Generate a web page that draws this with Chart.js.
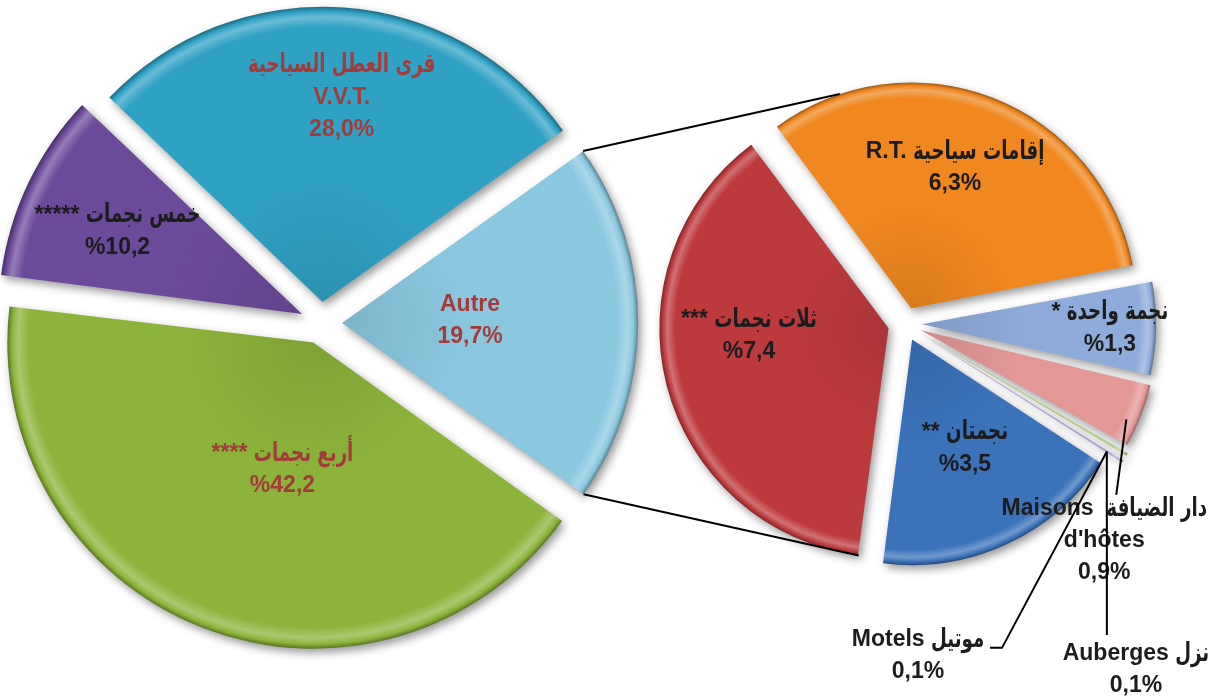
<!DOCTYPE html>
<html>
<head>
<meta charset="utf-8">
<script src="https://cdn.jsdelivr.net/npm/chart.js@4.4.1/dist/chart.umd.min.js"></script>
<style>
  html, body { margin: 0; padding: 0; background: #fff; }
  .wrap { position: relative; width: 1219px; height: 699px; overflow: hidden; }
  .wrap canvas { position: absolute; left: 0; top: 0; }
</style>
</head>
<body>
<div class="wrap">
  <canvas id="mainPie" width="1219" height="699"></canvas>
  <canvas id="subPie" width="1219" height="699"></canvas>
</div>
<script>
// Data -------------------------
const mainNames = ['Autre', '**** أربع نجمات', '***** خمس نجمات', 'قرى العطل السياحية\nV.V.T.'];
const mainValues = [19.7, 42.2, 10.2, 28.0];

const subNames = [
  'R.T. إقامات سياحية',
  '* نجمة واحدة',
  "Maisons  دار الضيافة\nd'hôtes",
  'Auberges نزل',
  'Motels موتيل',
  '** نجمتان',
  '*** ثلات نجمات',
];
const subValues = [6.3, 1.3, 0.9, 0.1, 0.1, 3.5, 7.4];

// Layout / style -----------------
const W = 1219;
const H = 699;
const MAIN = { cx: 321, cy: 323, r: 295, push: 21, rotation: 54.5 };
const SUB = { cx: 905, cy: 324, r: 224, push: 17, rotation: 323.4 };

const mainColors = ['#8bc8e0', '#8cb43a', '#6c4a9a', '#2fa2c4'];
const subColors = ['#f0871f', '#8eacd9', '#e39896', '#b4cf86', '#b2a3d0', '#3b72ba', '#bd3a3c'];

// label anchor: [angle shift from slice middle (deg), radius fraction]
const mainLabelAt = [[-0.9, 0.434], [-7.6, 0.445], [-1.4, 0.685], [1.2, 0.697]];
const mainPctLeft = [false, true, true, false];
const mainTextColors = ['#a33b3b', '#a33b3b', '#1c1c1c', '#a33b3b'];

const subLabelAt = [[-3.9, 0.656], [0.2, 0.839], [27.7, 1.247], [26.9, 1.789], [57.97, 1.441], [-1.2, 0.541], [11.4, 0.624]];
const subPctLeft = [false, true, false, false, false, true, true];
const subLeaders = [
  null,
  null,
  { from: [2.2, 1.0], to: [[12, -46]] },
  { from: [2, 0.99], to: [[-29, -35]] },
  { from: [0, 0.99], to: [[84, -8], [72, -8]] },
  null,
  null,
];

const FONT = 'bold 23px "Liberation Sans", "DejaVu Sans", sans-serif';
const ARABIC_FONT = 'bold 26px "DejaVu Sans", sans-serif';
const LINE_H = 32;
const ARABIC_SQUEEZE = 0.7; // DejaVu arabic runs wider than the original face
const ARABIC_RUN = /([\u0600-\u06FF]+(?:\s+[\u0600-\u06FF]+)*)/;

// Helpers ----------------------
const pct = (v, left) => {
  const s = v.toFixed(1).replace('.', ',');
  return left ? '%' + s : s + '%';
};

const shade = (hex, k) => {
  const n = parseInt(hex.slice(1), 16);
  const ch = [(n >> 16) & 255, (n >> 8) & 255, n & 255].map(c =>
    Math.round(k >= 0 ? c + (255 - c) * k : c * (1 + k))
  );
  return `rgb(${ch.join(',')})`;
};

// translation used by ArcElement for its offset
const pushOf = el => (el.options.offset || 0) / 4;
const edgeOf = el => el.outerRadius + pushOf(el) * (1 - Math.sin(Math.min(Math.PI, el.circumference)));

const apex = el => {
  const mid = (el.startAngle + el.endAngle) / 2;
  const t = pushOf(el);
  return { x: el.x + Math.cos(mid) * t, y: el.y + Math.sin(mid) * t };
};

const polar = (el, da, f) => {
  const o = apex(el);
  const a = (el.startAngle + el.endAngle) / 2 + (da * Math.PI) / 180;
  const r = f * el.outerRadius;
  return { x: o.x + Math.cos(a) * r, y: o.y + Math.sin(a) * r };
};

const edgePoint = (el, frac) => {
  const o = apex(el);
  const a = el.startAngle + (el.endAngle - el.startAngle) * frac;
  const r = edgeOf(el);
  return { x: o.x + Math.cos(a) * r, y: o.y + Math.sin(a) * r };
};

// one text line, arabic runs drawn larger and squeezed, centred on x
const drawLine = (c, text, x, y) => {
  const parts = text.split(ARABIC_RUN).filter(s => s.length);
  const isAr = parts.map(s => ARABIC_RUN.test(s));
  const widths = parts.map((s, i) => {
    c.font = isAr[i] ? ARABIC_FONT : FONT;
    return c.measureText(s).width * (isAr[i] ? ARABIC_SQUEEZE : 1);
  });
  let left = x - widths.reduce((a, b) => a + b, 0) / 2;
  parts.forEach((s, i) => {
    c.save();
    c.font = isAr[i] ? ARABIC_FONT : FONT;
    c.translate(left, y);
    if (isAr[i]) c.scale(ARABIC_SQUEEZE, 1);
    c.fillText(s, 0, 0);
    c.restore();
    left += widths[i];
  });
};

const sliceFill = (colors, geo) => ctx => {
  const chart = ctx.chart;
  const area = chart.chartArea;
  const base = colors[ctx.dataIndex];
  if (!area) return base;
  const data = ctx.dataset.data;
  const total = data.reduce((a, b) => a + b, 0);
  const circ = (data[ctx.dataIndex] / total) * Math.PI * 2;
  const rr = geo.r + geo.push * (1 - Math.sin(Math.min(Math.PI, circ)));
  const cx = (area.left + area.right) / 2;
  const cy = (area.top + area.bottom) / 2;
  const g = chart.ctx.createRadialGradient(cx, cy, 0, cx, cy, rr);
  g.addColorStop(0, shade(base, -0.1));
  g.addColorStop(0.45, base);
  g.addColorStop(0.93, base);
  g.addColorStop(0.965, shade(base, 0.28));
  g.addColorStop(0.985, base);
  g.addColorStop(1, shade(base, -0.35));
  return g;
};

const shadowPlugin = {
  id: 'sliceShadow',
  beforeDatasetsDraw(chart) {
    const c = chart.ctx;
    c.save();
    c.shadowColor = 'rgba(0,0,0,0.4)';
    c.shadowBlur = 9;
    c.shadowOffsetX = 3;
    c.shadowOffsetY = 4;
  },
  afterDatasetsDraw(chart) {
    chart.ctx.restore();
  },
};

const labelPlugin = (names, values, at, pctLeft, colors, leaders) => ({
  id: 'sliceLabels',
  afterDatasetsDraw(chart) {
    const c = chart.ctx;
    const arcs = chart.getDatasetMeta(0).data;
    c.save();
    c.textAlign = 'left';
    c.textBaseline = 'middle';
    c.direction = 'ltr';
    arcs.forEach((el, i) => {
      const p = polar(el, at[i][0], at[i][1]);
      const lead = leaders && leaders[i];
      if (lead) {
        const s = polar(el, lead.from[0], lead.from[1]);
        c.beginPath();
        c.moveTo(s.x, s.y);
        lead.to.forEach(([dx, dy]) => c.lineTo(p.x + dx, p.y + dy));
        c.strokeStyle = '#000';
        c.lineWidth = 2;
        c.stroke();
      }
      const lines = names[i].split('\n').concat(pct(values[i], pctLeft[i]));
      c.fillStyle = colors[i];
      lines.forEach((t, k) => drawLine(c, t, p.x, p.y + (k - (lines.length - 1) / 2) * LINE_H));
    });
    c.restore();
  },
});

const pieConfig = (geo, values, colors, plugins) => ({
  type: 'pie',
  data: {
    labels: values.map((_, i) => i),
    datasets: [
      {
        data: values,
        backgroundColor: sliceFill(colors, geo),
        borderWidth: 0,
        offset: geo.push * 4,
        hoverOffset: 0,
        radius: geo.r,
      },
    ],
  },
  options: {
    responsive: false,
    animation: false,
    events: [],
    rotation: geo.rotation,
    radius: geo.r,
    layout: {
      padding: {
        left: Math.max(0, geo.cx * 2 - W),
        right: Math.max(0, W - geo.cx * 2),
        top: Math.max(0, geo.cy * 2 - H),
        bottom: Math.max(0, H - geo.cy * 2),
      },
    },
    plugins: { legend: { display: false }, tooltip: { enabled: false } },
  },
  plugins,
});

// Charts ----------------------
const mainChart = new Chart(
  document.getElementById('mainPie'),
  pieConfig(MAIN, mainValues, mainColors, [
    shadowPlugin,
    labelPlugin(mainNames, mainValues, mainLabelAt, mainPctLeft, mainTextColors, null),
  ])
);

const connectorPlugin = {
  id: 'connectors',
  afterDatasetsDraw(chart) {
    const other = mainChart.getDatasetMeta(0).data[0];
    const arcs = chart.getDatasetMeta(0).data;
    const c = chart.ctx;
    const a1 = edgePoint(other, 0);
    const a2 = edgePoint(other, 1);
    const b1 = edgePoint(arcs[0], 0.157);
    const b2 = edgePoint(arcs[arcs.length - 1], 0);
    c.save();
    c.strokeStyle = '#000';
    c.lineWidth = 2;
    c.beginPath();
    c.moveTo(a1.x, a1.y);
    c.lineTo(b1.x, b1.y);
    c.moveTo(a2.x, a2.y);
    c.lineTo(b2.x, b2.y);
    c.stroke();
    c.restore();
  },
};

const subChart = new Chart(
  document.getElementById('subPie'),
  pieConfig(SUB, subValues, subColors, [
    shadowPlugin,
    connectorPlugin,
    labelPlugin(subNames, subValues, subLabelAt, subPctLeft, subColors.map(() => '#1c1c1c'), subLeaders),
  ])
);
</script>
</body>
</html>
